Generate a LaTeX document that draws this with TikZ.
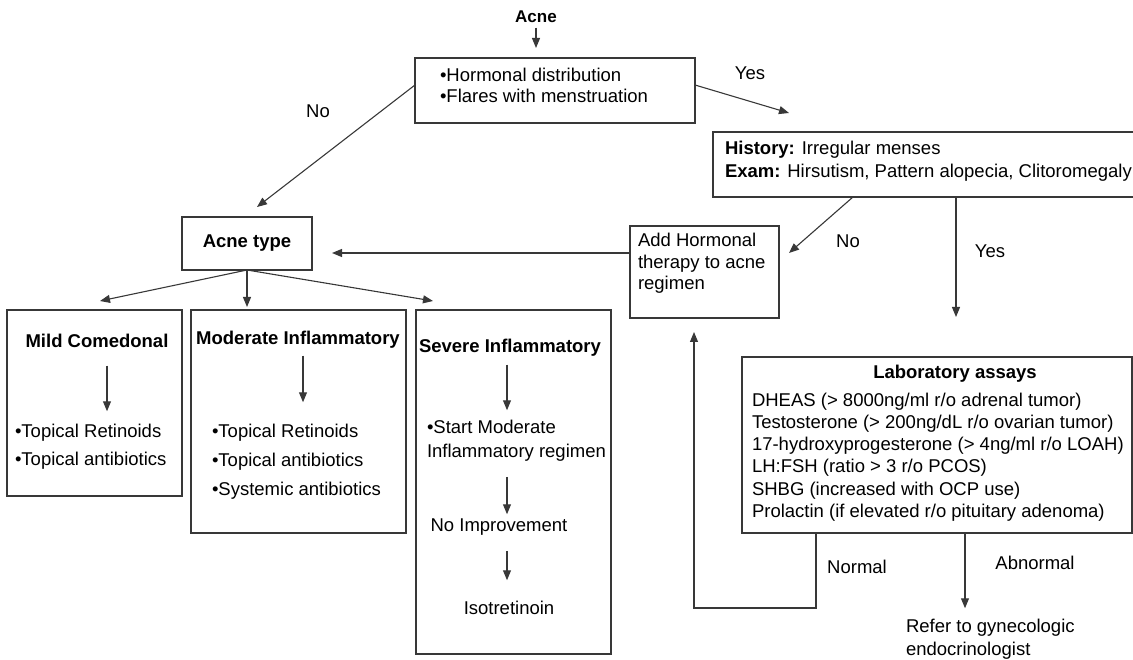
\documentclass[tikz,border=0pt]{standalone}
\usepackage{fontspec}
\setmainfont{Liberation Sans}
\usetikzlibrary{arrows.meta,calc}
\definecolor{lc}{HTML}{383838}
\newcommand\myfs{\fontsize{18.5}{22}\selectfont}
\tikzset{
  box/.style={draw=lc, line width=1.3pt, inner sep=0pt, outer sep=0pt},
  txt/.style={inner sep=0pt, outer sep=0pt, text height=13.5pt, text depth=4pt, font=\myfs},
  btxt/.style={txt, font=\myfs\bfseries},
  arr/.style={draw=lc, line width=1.1pt, -{Triangle[length=10pt,width=8pt]}},
  ln/.style={draw=lc, line width=1.1pt}
}
\begin{document}
\begin{tikzpicture}[x=1pt,y=-1pt]
\useasboundingbox (0,0) rectangle (1133,660);
% boxes
\node[box, minimum width=280pt, minimum height=65pt] (hbox) at (555,90.5) {};
\node[box, minimum width=440pt, minimum height=65pt] (hist) at (933,164.5) {};
\node[box, minimum width=149pt, minimum height=92pt] (add) at (704.5,272) {};
\node[box, minimum width=130pt, minimum height=53pt, font=\myfs\bfseries] (atype) at (247,243.5) {Acne type};
\node[box, minimum width=175pt, minimum height=186pt] (mild) at (94.5,403) {};
\node[box, minimum width=215pt, minimum height=223pt] (mod) at (298.5,421.5) {};
\node[box, minimum width=195pt, minimum height=344pt] (sev) at (513.5,482) {};
\node[box, minimum width=390pt, minimum height=176pt] (lab) at (937,445) {};
% texts
\node[btxt, font=\fontsize{17}{20}\selectfont\bfseries] (acne) at (536,18) {Acne};
\node[txt, anchor=west] (h1) at (440,77) {•Hormonal distribution};
\node[txt, anchor=west] (h2) at (440,98) {•Flares with menstruation};
\node[txt, anchor=west] (hi1) at (725,150) {\textbf{History:} Irregular menses};
\node[txt, anchor=west] (hi2) at (725,173) {\textbf{Exam:} Hirsutism, Pattern alopecia, Clitoromegaly};
\node[txt, anchor=west] (ad1) at (638,242) {Add Hormonal};
\node[txt, anchor=west] (ad2) at (638,264) {therapy to acne};
\node[txt, anchor=west] (ad3) at (638,285) {regimen};
% mild
\node[btxt] (mt) at (97,343) {Mild Comedonal};
\node[txt, anchor=west] (mb1) at (15,433) {•Topical Retinoids};
\node[txt, anchor=west] (mb2) at (15,461) {•Topical antibiotics};
% moderate
\node[btxt] (ot) at (298,340) {Moderate Inflammatory};
\node[txt, anchor=west] (ob1) at (212,433) {•Topical Retinoids};
\node[txt, anchor=west] (ob2) at (212,462) {•Topical antibiotics};
\node[txt, anchor=west] (ob3) at (212,491) {•Systemic antibiotics};
% severe
\node[btxt] (st) at (510,348) {Severe Inflammatory};
\node[txt, anchor=west] (s1) at (427,429) {•Start Moderate};
\node[txt, anchor=west] (s2) at (427,453) {Inflammatory regimen};
\node[txt] (s3) at (499,527) {No Improvement};
\node[txt] (s4) at (509,610) {Isotretinoin};
% lab
\node[btxt] (lt) at (955,374) {Laboratory assays};
\node[txt, anchor=west] (l1) at (752,402) {DHEAS (> 8000ng/ml r/o adrenal tumor)};
\node[txt, anchor=west] (l2) at (752,424) {Testosterone (> 200ng/dL r/o ovarian tumor)};
\node[txt, anchor=west] (l3) at (752,446) {17-hydroxyprogesterone (> 4ng/ml r/o LOAH)};
\node[txt, anchor=west] (l4) at (752,468) {LH:FSH (ratio > 3 r/o PCOS)};
\node[txt, anchor=west] (l5) at (752,491) {SHBG (increased with OCP use)};
\node[txt, anchor=west] (l6) at (752,513) {Prolactin (if elevated r/o pituitary adenoma)};
\node[txt, anchor=west] (r1) at (906,628) {Refer to gynecologic};
\node[txt, anchor=west] (r2) at (906,651) {endocrinologist};
% edge labels
\node[txt] (lno) at (318,113) {No};
\node[txt] (lyes) at (750,75) {Yes};
\node[txt] (lno2) at (848,243) {No};
\node[txt] (lyes2) at (990,253) {Yes};
\node[txt] (lnorm) at (857,569) {Normal};
\node[txt] (labn) at (1035,565) {Abnormal};
% helper coordinates
\coordinate (tA) at (257,207);
\coordinate (tY) at (789,113);
\coordinate (tN) at (789,253);
\coordinate (tT) at (332,253);
\coordinate (t1) at (100,301);
\coordinate (t2) at (247,307);
\coordinate (t3) at (433,301);
\coordinate (xm) at (107,0);
\coordinate (xo) at (303,0);
\coordinate (xs) at (507,0);
\coordinate (xy) at (956,0);
\coordinate (xn) at (816,0);
\coordinate (xab) at (965,0);
\coordinate (nc) at (694,608);
% connectors
\draw[arr, shorten <=1pt, shorten >=10pt] (acne.south) -- (acne.south |- hbox.north);
\draw[arr] ($(hbox.west)+(0,-5.5)$) -- (tA);
\draw[arr] ($(hbox.east)+(0,-5.5)$) -- (tY);
\draw[arr] ($(hist.south west)+(140,0)$) -- (tN);
\draw[arr, shorten >=40pt] (hist.south -| xy) -- (lab.north -| xy);
\draw[arr] (add.west |- tT) -- (tT);
\draw[arr] (atype.south) -- (t1);
\draw[arr] (atype.south) -- (t2);
\draw[arr] (atype.south) -- (t3);
\draw[arr, shorten <=14pt, shorten >=13pt] (mt.south -| xm) -- (mb1.north -| xm);
\draw[arr, shorten <=7pt, shorten >=22pt] (ot.south -| xo) -- (ob1.north -| xo);
\draw[arr, shorten <=8pt, shorten >=10pt] (st.south -| xs) -- (s1.north -| xs);
\draw[arr, shorten <=15pt, shorten >=4pt] (s2.south -| xs) -- (s3.north -| xs);
\draw[arr, shorten <=15pt, shorten >=21pt] (s3.south -| xs) -- (s4.north -| xs);
\draw[arr, shorten >=14pt] (lab.south -| xn) |- (nc) -- (nc |- add.south);
\draw[arr, shorten >=11pt] (lab.south -| xab) -- (r1.north -| xab);
\end{tikzpicture}
\end{document}
